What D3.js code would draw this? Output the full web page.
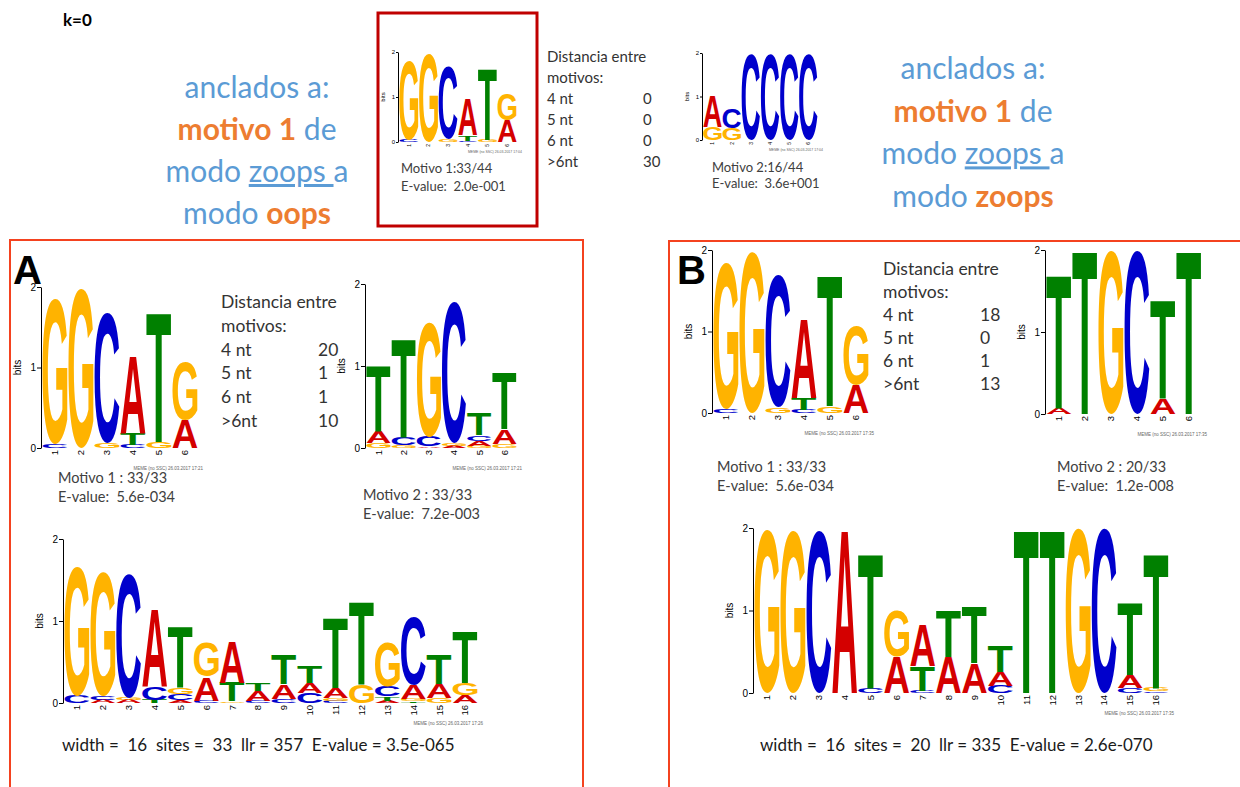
<!DOCTYPE html>
<html>
<head>
<meta charset="utf-8">
<style>
  body { margin: 0; background: #fff; }
  svg { display: block; }
  .base { font-family: "Liberation Sans", Arial, sans-serif; font-weight: bold; font-size: 100px; }
  .lbl { font-family: Lato, "Open Sans", sans-serif; fill: #333; white-space: pre; }
  .head { font-family: Lato, "Open Sans", sans-serif; font-size: 30px; white-space: pre; }
  .axis text, .ttl { font-family: "Liberation Sans", Arial, sans-serif; fill: #000; }
  .axis path, .axis line { stroke: #000; }
  .stamp { font-family: "Liberation Sans", Arial, sans-serif; font-size: 4.5px; fill: #666; }
</style>
</head>
<body>
<svg id="chart" width="1240" height="787"></svg>
<script src="https://d3js.org/d3.v7.min.js"></script>
<script>
// ---- data ----
var distLabels = ["4 nt", "5 nt", "6 nt", ">6nt"];
var distTop = [0, 0, 0, 30];
var distA = [20, 1, 1, 10];
var distB = [18, 0, 1, 13];

// logo columns, letters from bottom to top with height in bits
var motif1Zoops = [
  [["C", .05], ["G", 1.76]],
  [["G", 1.96]],
  [["G", .06], ["C", 1.61]],
  [["C", .03], ["T", .12], ["A", .81]],
  [["G", .05], ["T", 1.6]],
  [["A", .48], ["G", .59]]
];
var motif2Zoops = [
  [["G", .3], ["A", .72]],
  [["G", .28], ["C", .46]],
  [["C", 1.97]],
  [["C", 1.97]],
  [["C", 1.97]],
  [["C", 1.97]]
];
var motif1Oops = [
  [["C", .05], ["G", 1.8]],
  [["G", 1.98]],
  [["G", .07], ["C", 1.62]],
  [["C", .04], ["T", .14], ["A", .97]],
  [["G", .08], ["T", 1.61]],
  [["A", .35], ["G", .72]]
];
var motif2OopsA = [
  [["G", .06], ["A", .14], ["T", .81]],
  [["G", .03], ["C", .1], ["T", 1.21]],
  [["A", .02], ["C", .12], ["G", 1.4]],
  [["A", .03], ["G", .03], ["C", 1.72]],
  [["G", .03], ["A", .06], ["C", .07], ["T", .27]],
  [["G", .05], ["A", .18], ["T", .7]]
];
var motif2ZoopsB = [
  [["A", .07], ["T", 1.63]],
  [["T", 1.99]],
  [["G", 1.99]],
  [["C", 1.99]],
  [["A", .19], ["T", 1.2]],
  [["T", 1.99]]
];
var joinedA = [
  [["C", .09], ["G", 1.58]],
  [["A", .04], ["C", .05], ["G", 1.51]],
  [["A", .04], ["G", .03], ["C", 1.51]],
  [["T", .04], ["C", .16], ["A", .95]],
  [["A", .03], ["C", .08], ["G", .08], ["T", .75]],
  [["C", .03], ["A", .29], ["G", .41]],
  [["G", .02], ["T", .23], ["A", .5]],
  [["C", .03], ["A", .12], ["T", .1]],
  [["C", .05], ["A", .18], ["T", .36]],
  [["C", .12], ["A", .12], ["T", .2]],
  [["C", .03], ["G", .03], ["A", .12], ["T", .85]],
  [["G", .22], ["T", 1.02]],
  [["A", .03], ["T", .05], ["C", .12], ["G", .55]],
  [["T", .02], ["G", .03], ["A", .17], ["C", .83]],
  [["G", .06], ["A", .17], ["T", .37]],
  [["A", .1], ["G", .14], ["T", .63]]
];
var joinedB = [
  [["G", 1.98]],
  [["G", 1.97]],
  [["C", 1.97]],
  [["A", 1.98]],
  [["C", .06], ["T", 1.64]],
  [["A", .44], ["G", .56]],
  [["C", .03], ["T", .3], ["A", .5]],
  [["A", .44], ["T", .56]],
  [["A", .36], ["T", .69]],
  [["C", .09], ["A", .17], ["T", .32]],
  [["T", 1.99]],
  [["T", 1.99]],
  [["G", 1.99]],
  [["C", 1.99]],
  [["C", .06], ["A", .16], ["T", .88]],
  [["C", .02], ["G", .04], ["T", 1.64]]
];

var blue = "#5b9bd5", orange = "#ed7d31";
var colors = {A: "#d40000", C: "#0000cc", G: "#ffb300", T: "#008000"};

var svg = d3.select("#chart");

// tight glyph boxes so each letter can be stretched to its cell
var ctx = document.createElement("canvas").getContext("2d");
ctx.font = 'bold 100px "Liberation Sans"';
var glyph = {};
"ACGT".split("").forEach(function(L) {
  var m = ctx.measureText(L);
  glyph[L] = {l: m.actualBoundingBoxLeft, a: m.actualBoundingBoxAscent,
              w: m.actualBoundingBoxLeft + m.actualBoundingBoxRight,
              h: m.actualBoundingBoxAscent + m.actualBoundingBoxDescent};
});

function drawLogo(cols, o) {
  var g = svg.append("g");
  var x = d3.scaleBand().domain(d3.range(1, cols.length + 1))
    .range([o.x + 1, o.x + o.w]).paddingInner(0.04).paddingOuter(0.02);
  var y = d3.scaleLinear().domain([0, 2]).range([o.y0, o.y2]);

  cols.forEach(function(col, i) {
    var base = 0;
    col.forEach(function(p) {
      var m = glyph[p[0]];
      var top = y(base + p[1]), bh = y(base) - top;
      g.append("text")
        .attr("class", "base")
        .attr("fill", colors[p[0]])
        .attr("transform", "translate(" + x(i + 1) + "," + top + ") scale(" +
          (x.bandwidth() / m.w) + "," + (bh / m.h) + ") translate(" + (m.l) + "," + m.a + ")")
        .text(p[0]);
      base += p[1];
    });
  });

  var ya = g.append("g").attr("class", "axis")
    .attr("transform", "translate(" + o.x + ",0)")
    .call(d3.axisLeft(y).tickValues([0, 1, 2]).tickFormat(d3.format("d"))
      .tickSize(o.tick).tickSizeOuter(0).tickPadding(1));
  ya.selectAll("text").style("font-size", o.fs + "px");

  g.append("text").attr("class", "ttl")
    .attr("transform", "translate(" + (o.x - o.bitsOff) + "," + y(1) + ") rotate(-90)")
    .attr("text-anchor", "middle")
    .style("font-size", o.fs + "px")
    .text("bits");

  var xa = g.append("g").attr("class", "axis")
    .attr("transform", "translate(0," + o.y0 + ")")
    .call(d3.axisBottom(x).tickSize(0).tickPadding(0));
  xa.select(".domain").remove();
  xa.selectAll("text")
    .attr("y", 0).attr("x", -2).attr("dy", "0.35em")
    .attr("transform", "rotate(-90)")
    .attr("text-anchor", "end")
    .style("font-size", o.xfs + "px");

  g.append("text").attr("class", "stamp")
    .attr("x", o.x + o.w + o.sdx).attr("y", o.y0 + o.sdy)
    .attr("text-anchor", "end")
    .style("font-size", o.sfs + "px")
    .text(o.stamp);
}

function distTable(vals, o) {
  var t = svg.append("g").attr("class", "lbl").style("font-size", o.fs + "px");
  ["Distancia entre", "motivos:"].forEach(function(s, i) {
    t.append("text").attr("x", o.x).attr("y", o.y + i * o.dy).text(s);
  });
  distLabels.forEach(function(s, i) {
    t.append("text").attr("x", o.x).attr("y", o.y + (i + 2) * o.dy).text(s);
    t.append("text").attr("x", o.vx).attr("y", o.y + (i + 2) * o.dy).text(vals[i]);
  });
}

function lines(strs, x, y, dy, fs, fill) {
  strs.forEach(function(s, i) {
    svg.append("text").attr("class", "lbl")
      .attr("x", x).attr("y", y + i * dy)
      .style("font-size", fs + "px").style("fill", fill || "#404040")
      .text(s);
  });
}

function headBlock(rows, cx, y, dy) {
  rows.forEach(function(r, i) {
    var t = svg.append("text").attr("class", "head")
      .attr("x", cx).attr("y", y + i * dy).attr("text-anchor", "middle");
    r.forEach(function(p) {
      t.append("tspan").text(p[0])
        .style("fill", p[1])
        .style("font-weight", p[2] === "b" ? "bold" : "normal")
        .style("text-decoration", p[2] === "u" ? "underline" : "none");
    });
  });
}

// ---- frames ----
svg.append("rect").attr("x", 378).attr("y", 13).attr("width", 159).attr("height", 213)
  .attr("fill", "none").attr("stroke", "#c00000").attr("stroke-width", 3);
svg.append("rect").attr("x", 10).attr("y", 240).attr("width", 573).attr("height", 570)
  .attr("fill", "none").attr("stroke", "#f4421f").attr("stroke-width", 2);
svg.append("rect").attr("x", 669).attr("y", 241).attr("width", 590).attr("height", 570)
  .attr("fill", "none").attr("stroke", "#f4421f").attr("stroke-width", 2);

svg.append("text").attr("x", 63).attr("y", 26)
  .style("font-family", "Lato, sans-serif").style("font-weight", "bold").style("font-size", "17px")
  .text("k=0");

headBlock([
  [["anclados a:", blue]],
  [["motivo 1", orange, "b"], [" de", blue]],
  [["modo ", blue], ["zoops ", blue, "u"], ["a", blue]],
  [["modo ", blue], ["oops", orange, "b"]]
], 257, 98, 42);
headBlock([
  [["anclados a:", blue]],
  [["motivo 1", orange, "b"], [" de", blue]],
  [["modo ", blue], ["zoops ", blue, "u"], ["a", blue]],
  [["modo ", blue], ["zoops", orange, "b"]]
], 973, 79, 42.7);

svg.append("text").attr("x", 13).attr("y", 284)
  .style("font-family", '"Liberation Sans", Arial').style("font-weight", "bold").style("font-size", "40px").text("A");
svg.append("text").attr("x", 677).attr("y", 284)
  .style("font-family", '"Liberation Sans", Arial').style("font-weight", "bold").style("font-size", "40px").text("B");

// ---- logos ----
var small = {fs: 6, bitsOff: 13, tick: 2, xfs: 5, sfs: 3.5, sdx: 5, sdy: 11};
var big = {fs: 10, bitsOff: 20, tick: 4, xfs: 9.5, sfs: 4.5, sdx: 5, sdy: 22};

drawLogo(motif1Zoops, Object.assign({}, small, {x: 398, w: 119, y0: 142, y2: 52, stamp: "MEME (no SSC) 26.03.2017 17:04"}));
drawLogo(motif2Zoops, Object.assign({}, small, {x: 702, w: 116, y0: 140, y2: 53, stamp: "MEME (no SSC) 26.03.2017 17:04"}));
drawLogo(motif1Oops, Object.assign({}, big, {x: 41, w: 157, y0: 448, y2: 287, stamp: "MEME (no SSC) 26.03.2017 17:21"}));
drawLogo(motif2OopsA, Object.assign({}, big, {x: 365, w: 152, y0: 448, y2: 284, stamp: "MEME (no SSC) 26.03.2017 17:21"}));
drawLogo(joinedA, Object.assign({}, big, {x: 63, w: 415, y0: 703, y2: 539, stamp: "MEME (no SSC) 26.03.2017 17:26"}));
drawLogo(motif1Oops, Object.assign({}, big, {x: 712, w: 157, y0: 413, y2: 250, stamp: "MEME (no SSC) 26.03.2017 17:35"}));
drawLogo(motif2ZoopsB, Object.assign({}, big, {x: 1045, w: 157, y0: 414, y2: 250, stamp: "MEME (no SSC) 26.03.2017 17:35"}));
drawLogo(joinedB, Object.assign({}, big, {x: 753, w: 416, y0: 693, y2: 528, stamp: "MEME (no SSC) 26.03.2017 17:35"}));

// ---- texts ----
distTable(distTop, {x: 547, vx: 643, y: 62, dy: 20.9, fs: 15});
distTable(distA, {x: 221, vx: 318, y: 308, dy: 23.8, fs: 17.5});
distTable(distB, {x: 883, vx: 980, y: 275, dy: 23, fs: 17.5});

lines(["Motivo 1:33/44", "E-value:  2.0e-001"], 401, 173, 18, 13);
lines(["Motivo 2:16/44", "E-value:  3.6e+001"], 712, 172, 16, 13);
lines(["Motivo 1 : 33/33", "E-value:  5.6e-034"], 58, 483, 18.5, 14.5);
lines(["Motivo 2 : 33/33", "E-value:  7.2e-003"], 363, 500, 18.5, 14.5);
lines(["Motivo 1 : 33/33", "E-value:  5.6e-034"], 717, 472, 19, 14.5);
lines(["Motivo 2 : 20/33", "E-value:  1.2e-008"], 1057, 472, 19, 14.5);

lines(["width =  16  sites =  33  llr = 357  E-value = 3.5e-065"], 62, 751, 0, 17, "#1a1a1a");
lines(["width =  16  sites =  20  llr = 335  E-value = 2.6e-070"], 760, 751, 0, 17, "#1a1a1a");
</script>
</body>
</html>
